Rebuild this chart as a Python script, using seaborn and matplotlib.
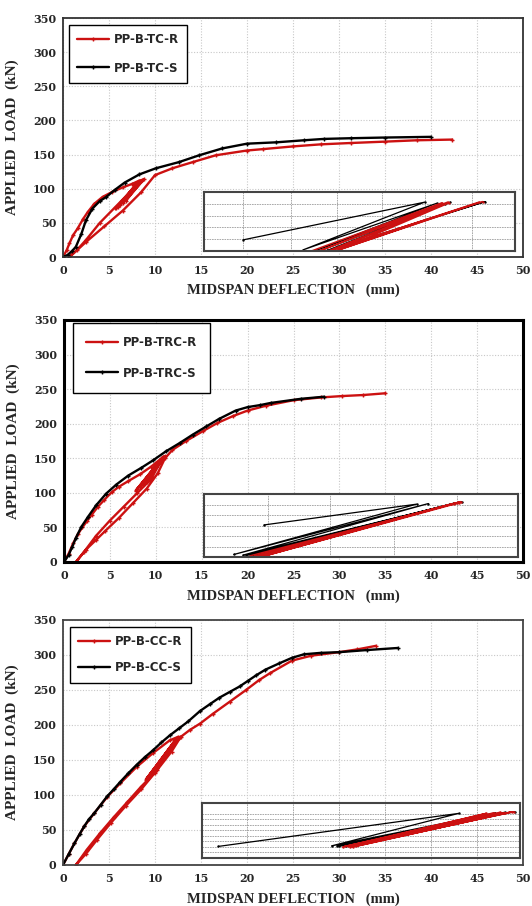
import matplotlib.pyplot as plt
import seaborn as sns

sns.set_style("white")
plt.rcParams["font.family"] = ["DejaVu Serif"]
plt.rcParams["font.weight"] = "bold"

RED = "#cc1111"
BLACK = "#000000"

# ---------------- PP-B-TC ----------------
tc_labels = ["PP-B-TC-R", "PP-B-TC-S"]
tc_r_x = [0, 0.4, 0.7, 1.1, 1.6, 2.2, 2.7, 3.4, 4.3, 5.3, 6.5, 7.5, 8.3,
          6.0, 8.1, 5.8, 8.4, 6.2, 8.6, 6.5, 8.8, 6.8, 8.5, 5.6,
          4.0, 2.5, 1.5, 0.7,
          2.5, 4.5, 6.5, 8.5, 10.0, 11.9, 14.1, 16.6, 20.0, 21.7, 25.0, 28.0,
          31.3, 35.0, 38.5, 42.3]
tc_r_y = [0, 10, 20, 32, 42, 56, 66, 78, 88, 95, 102, 107, 112,
          74, 109, 72, 111, 76, 113, 79, 114, 82, 112, 72,
          50, 25, 10, 0,
          22, 45, 68, 95, 120, 130, 139, 149, 156, 158, 162, 165,
          167, 169, 171, 172]
tc_s_x = [0, 0.5, 1.0, 1.4, 2.0, 2.5, 3.2, 4.0, 4.7, 5.6, 6.7, 8.3, 10.1, 12.6,
          14.8, 17.3, 20.0, 23.2, 26.2, 28.4, 31.3, 35.0, 40.0]
tc_s_y = [0, 3, 9, 15, 34, 54, 71, 82, 88, 98, 109, 121, 130, 139,
          149, 159, 166, 168, 171, 173, 174, 175, 176]
# inset (hysteresis detail)
tc_in_s_x = [19.6, 39.3, 26.1, 40.6, 27.5, 42.1, 28.7, 45.9, 29.5, 41.5, 28.2]
tc_in_s_y = [19, 83, 2, 81, 1, 83, 1, 84, 3, 80, 2]
tc_in_r_x = [27.0, 41.2, 28.0, 41.8, 28.8, 45.6, 30.0, 42.0, 29.2, 45.2, 29.8]
tc_in_r_y = [0, 82, 1, 83, 0, 84, 2, 82, 1, 83, 1]

# ---------------- PP-B-TRC ----------------
trc_labels = ["PP-B-TRC-R", "PP-B-TRC-S"]
trc_r_x = [0, 0.5, 1.0, 1.5, 2.0, 2.5, 3.0, 3.7, 4.4, 5.2, 6.0, 7.0, 8.3, 9.5, 10.8,
           8.0, 10.6, 7.8, 10.9, 8.3, 10.7, 8.6, 11.0, 9.0, 10.8,
           9.5, 8.0, 6.5, 5.0, 3.5, 2.2, 1.3,
           2.4, 3.5, 4.5, 6.0, 7.5, 9.0, 10.2, 11.0, 11.8, 13.3, 15.1, 16.7,
           18.4, 20.0, 22.0, 25.0, 28.0, 30.3, 32.6, 35.0]
trc_r_y = [0, 12, 27, 40, 50, 59, 68, 80, 90, 101, 109, 117, 127, 138, 152,
           106, 149, 103, 151, 109, 150, 112, 153, 116, 152,
           120, 100, 80, 60, 38, 15, 0,
           18, 32, 45, 64, 85, 106, 128, 150, 162, 175, 189, 201,
           211, 219, 226, 234, 238, 240, 241.5, 244]
trc_s_x = [0, 0.5, 0.9, 1.3, 1.9, 2.6, 3.5, 4.6, 5.7, 7.0, 8.4, 9.7, 11.1, 12.6,
           14.0, 15.5, 16.9, 18.7, 20.0, 21.4, 22.5, 25.8, 28.3]
trc_s_y = [0, 10, 22, 35, 51, 65, 82, 99, 112, 125, 136, 147, 160, 172,
           184, 196, 207, 219, 224, 227, 230, 236, 239]
trc_in_s_x = [21.8, 38.4, 18.5, 39.7, 19.5, 43.3, 20.3, 42.6, 19.8]
trc_in_s_y = [51, 84, 4, 85, 3, 88, 2, 86, 2]
trc_in_r_x = [20.3, 42.8, 21.0, 43.0, 21.5, 42.5, 20.8, 43.2, 21.8, 42.2, 22.2, 43.0]
trc_in_r_y = [2, 86, 1, 87, 2, 85, 1, 88, 2, 84, 3, 86]

# ---------------- PP-B-CC ----------------
cc_labels = ["PP-B-CC-R", "PP-B-CC-S"]
cc_r_x = [0, 0.6, 1.25, 2.3, 3.4, 4.8, 6.25, 8.0, 9.8, 11.6, 12.5,
          9.2, 12.3, 9.0, 12.6, 9.5, 12.4, 9.8, 12.7, 10.2, 12.5,
          10.0, 8.5, 7.0, 5.5, 4.0, 2.6, 1.4,
          2.5, 3.7, 5.2, 6.8, 8.5, 10.2, 11.8, 12.8, 13.8, 14.9, 16.3, 18.1,
          19.9, 21.3, 22.5, 24.9, 27.0, 30.0, 32.0, 34.0]
cc_r_y = [0, 15, 31, 55, 74, 97, 117, 140, 160, 178, 183,
          125, 180, 122, 182, 128, 181, 132, 183, 138, 182,
          132, 112, 90, 68, 45, 22, 0,
          16, 36, 60, 84, 108, 135, 162, 183, 193, 202, 216, 233,
          250, 264, 274, 292, 299, 304, 308, 313]
cc_s_x = [0, 0.6, 1.25, 1.8, 2.3, 2.8, 3.4, 4.1, 4.8, 5.5, 6.25, 7.1, 8.0, 8.9,
          9.8, 10.7, 11.6, 12.6, 13.6, 14.9, 16.0, 17.0, 18.1, 19.2, 20.1, 21.0,
          22.0, 23.5, 24.9, 26.2, 28.0, 30.0, 33.0, 36.4]
cc_s_y = [0, 15, 31, 44, 55, 65, 74, 86, 98, 108, 119, 131, 143, 154,
          164, 175, 185, 195, 205, 220, 230, 239, 247, 255, 263, 271,
          279, 288, 296, 301, 303, 304, 307, 310]
cc_in_s_x = [16.9, 43.0, 29.2, 47.0, 30.0, 49.1, 30.8, 48.0, 29.8]
cc_in_s_y = [21, 81, 22, 82, 21, 84, 21, 83, 22]
cc_in_r_x = [30.4, 46.0, 31.0, 48.0, 31.2, 49.0, 30.6, 47.5, 31.5, 48.8, 31.8, 46.8]
cc_in_r_y = [20, 81, 21, 82, 20, 84, 21, 83, 20, 84, 21, 82]

fig = plt.figure(figsize=(5.32, 9.06), dpi=100)

layout = [
    dict(rect=[0.1184, 0.7163, 0.8647, 0.2638], sw=1.3, sc="#333333",
         anchor=(0.013, 0.971), bpad=0.7, lspace=1.3,
         ins=[15.3, 8.8, 33.8, 86.2], iy=[20, 40, 60, 80],
         ix=[19.6, 24.8, 29.8, 34.7, 39.4, 44.5]),
    dict(rect=[0.1203, 0.3797, 0.8628, 0.2671], sw=2.2, sc="#000000",
         anchor=(0.02, 0.988), bpad=1.1, lspace=1.5,
         ins=[15.2, 7.2, 34.3, 91.0], iy=[16.7, 33.3, 50, 66.7, 83.3],
         ix=[22.2, 29.0, 35.9, 42.8]),
    dict(rect=[0.1184, 0.0453, 0.8647, 0.2704], sw=1.3, sc="#444444",
         anchor=(0.015, 0.971), bpad=0.7, lspace=1.1,
         ins=[15.1, 10.0, 34.6, 78.6], iy=[10, 20, 30, 40, 50, 60, 70, 80],
         ix=[20, 25, 30, 35, 40, 45]),
]

series = [
    (tc_labels, tc_r_x, tc_r_y, tc_s_x, tc_s_y, tc_in_s_x, tc_in_s_y, tc_in_r_x, tc_in_r_y),
    (trc_labels, trc_r_x, trc_r_y, trc_s_x, trc_s_y, trc_in_s_x, trc_in_s_y, trc_in_r_x, trc_in_r_y),
    (cc_labels, cc_r_x, cc_r_y, cc_s_x, cc_s_y, cc_in_s_x, cc_in_s_y, cc_in_r_x, cc_in_r_y),
]


def curve(ax, x, y, color, label=None, lw=1.7, ms=3.5, marker="+"):
    sns.lineplot(x=x, y=y, ax=ax, sort=False, estimator=None, color=color,
                 linewidth=lw, marker=marker, markersize=ms,
                 markeredgecolor=color, markeredgewidth=1.0, label=label)


for lay, (labels, rx, ry, sx, sy, isx, isy, irx, iry) in zip(layout, series):
    ax = fig.add_axes(lay["rect"])
    curve(ax, rx, ry, RED, labels[0])
    curve(ax, sx, sy, BLACK, labels[1])

    ax.set_xlim(0, 50)
    ax.set_ylim(0, 350)
    ax.set_xticks(range(0, 51, 5))
    ax.set_yticks(range(0, 351, 50))
    ax.grid(True, color="#c8c8c8", linestyle=(0, (1, 1.5)), linewidth=0.8)
    ax.set_axisbelow(True)
    ax.tick_params(axis="x", length=0, labelsize=8, pad=6)
    ax.tick_params(axis="y", length=0, labelsize=8, pad=5)
    for sp in ax.spines.values():
        sp.set_linewidth(lay["sw"])
        sp.set_color(lay["sc"])

    ax.set_xlabel("MIDSPAN DEFLECTION   (mm)", family="Liberation Serif",
                  fontsize=10.5, fontweight="bold")
    ax.set_ylabel("APPLIED  LOAD  (kN)", family="Liberation Serif",
                  fontsize=11, fontweight="bold")
    ax.xaxis.set_label_coords(0.5, -0.112)
    ax.yaxis.set_label_coords(-0.095, 0.5)

    leg = ax.legend(loc="upper left", bbox_to_anchor=lay["anchor"],
                    prop=dict(family="DejaVu Sans", weight="bold", size=8.5),
                    frameon=True, fancybox=False, edgecolor="black",
                    framealpha=1, handlelength=2.7, handletextpad=0.4,
                    labelspacing=lay["lspace"], borderpad=lay["bpad"],
                    borderaxespad=0)
    leg.get_frame().set_linewidth(1.0)

    # inset with the unloading/reloading detail
    b = lay["ins"]
    ins = ax.inset_axes(b, transform=ax.transData)
    ins.set_facecolor("white")
    curve(ins, isx, isy, BLACK, lw=0.9, ms=1.5, marker=".")
    curve(ins, irx, iry, RED, lw=1.1, ms=1.5, marker=".")
    ins.set_xlim(b[0], b[0] + b[2])
    ins.set_ylim(0, 100)
    ins.set_xticks(lay["ix"])
    ins.set_yticks(lay["iy"])
    ins.tick_params(length=0, labelbottom=False, labelleft=False)
    ins.grid(True, color="#9c9c9c", linestyle=(0, (2, 1)), linewidth=0.6)
    ins.set_xlabel("")
    ins.set_ylabel("")
    if ins.get_legend():
        ins.get_legend().remove()
    for sp in ins.spines.values():
        sp.set_linewidth(1.5)
        sp.set_color("#444444")

fig.savefig("out.png", dpi=100)
